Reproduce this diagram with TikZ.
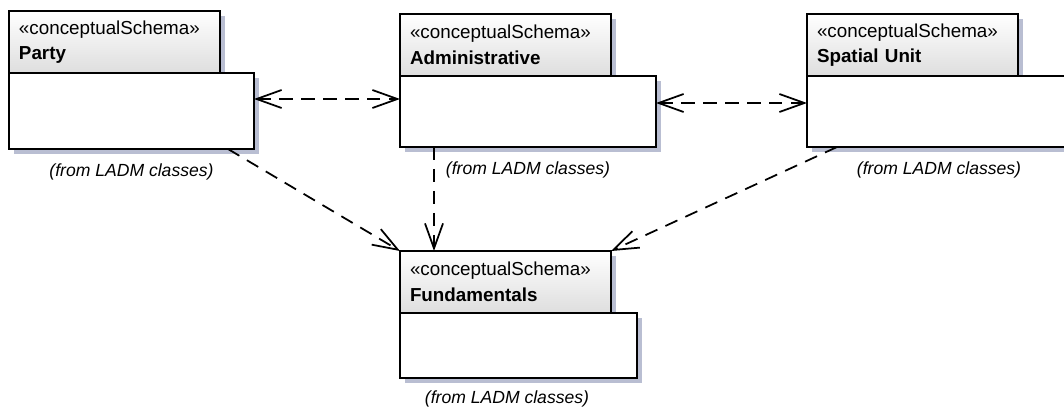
\documentclass[tikz,border=0pt]{standalone}
\usepackage{fontspec}
\setmainfont{Liberation Sans}
\usepackage{tikz}
\usepackage{xcolor}
\usetikzlibrary{arrows.meta,calc,positioning,shadows}
\definecolor{shadowblue}{RGB}{185,190,210}
\tikzset{%
	pkgtab/.style  = {draw, rectangle, anchor=north west, line width=1.1pt, outer sep=0pt, top color=white, bottom color=black!13, minimum height=1.24cm, inner xsep=0.2cm, text width=3.82cm, align=left, font=\fontsize{10.7}{14.6}\selectfont, drop shadow={shadow xshift=0.1cm, shadow yshift=-0.1cm, fill=shadowblue, opacity=1}}, % Package tab
	pkgbody/.style = {draw, rectangle, line width=1.1pt, outer sep=0pt, fill=white, drop shadow={shadow xshift=0.1cm, shadow yshift=-0.1cm, fill=shadowblue, opacity=1}}, % Package body
	note/.style    = {rectangle, inner sep=0pt, font=\fontsize{10}{12}\selectfont\itshape}, % From note
	dep/.style     = {line width=1pt, dash pattern=on 7.5pt off 5pt}, % Dependency
}

\begin{document}
\begin{tikzpicture}[>={Straight Barb[length=0.5cm,width=0.36cm]}]
	\useasboundingbox (0,0) rectangle (21.28,-8.2);
	% packages
	\node [pkgtab] (partytab) at (0.18,-0.22) {«conceptualSchema»\\\textbf{Party}};
	\node [pkgbody, minimum width=4.9cm, minimum height=1.52cm] (partybody) [below right=0cm and 0cm of partytab.south west] {};
	\node [pkgtab] (admintab) at (8.0,-0.28) {«conceptualSchema»\\\textbf{Administrative}};
	\node [pkgbody, minimum width=5.12cm, minimum height=1.42cm] (adminbody) [below right=0cm and 0cm of admintab.south west] {};
	\node [pkgtab] (spatialtab) at (16.14,-0.28) {«conceptualSchema»\\\textbf{Spatial Unit}};
	\node [pkgbody, minimum width=5.28cm, minimum height=1.42cm] (spatialbody) [below right=0cm and 0cm of spatialtab.south west] {};
	\node [pkgtab] (fundtab) at (8.0,-5.02) {«conceptualSchema»\\\textbf{Fundamentals}};
	\node [pkgbody, minimum width=4.74cm, minimum height=1.3cm] (fundbody) [below right=0cm and 0cm of fundtab.south west] {};
	
	\node [note] (partynote) [below=0.29cm of partybody] {(from LADM classes)};
	\node [note] (adminnote) [below=0.29cm of adminbody] {(from LADM classes)};
	\node [note] (spatialnote) [below=0.29cm of spatialbody] {(from LADM classes)};
	\node [note] (fundnote) [below=0.25cm of fundbody, xshift=-0.23cm] {(from LADM classes)};
	
	% dependencies
	\draw[dep,<->] ([yshift=0.24cm]partybody.east) -- ([yshift=0.24cm]partybody.east -| adminbody.west);
	\draw[dep,<->] ([yshift=0.17cm]adminbody.east) -- ([yshift=0.17cm]adminbody.east -| spatialbody.west);
	\draw[dep,->] ([xshift=1.93cm]partybody.south) -- (fundtab.north west);
	\draw[dep,->] ([xshift=-1.88cm]adminbody.south) -- ([xshift=-1.88cm]adminbody.south |- fundtab.north);
	\draw[dep,->] ([xshift=-2.04cm]spatialbody.south) -- (fundtab.north east);
\end{tikzpicture}
\end{document}
